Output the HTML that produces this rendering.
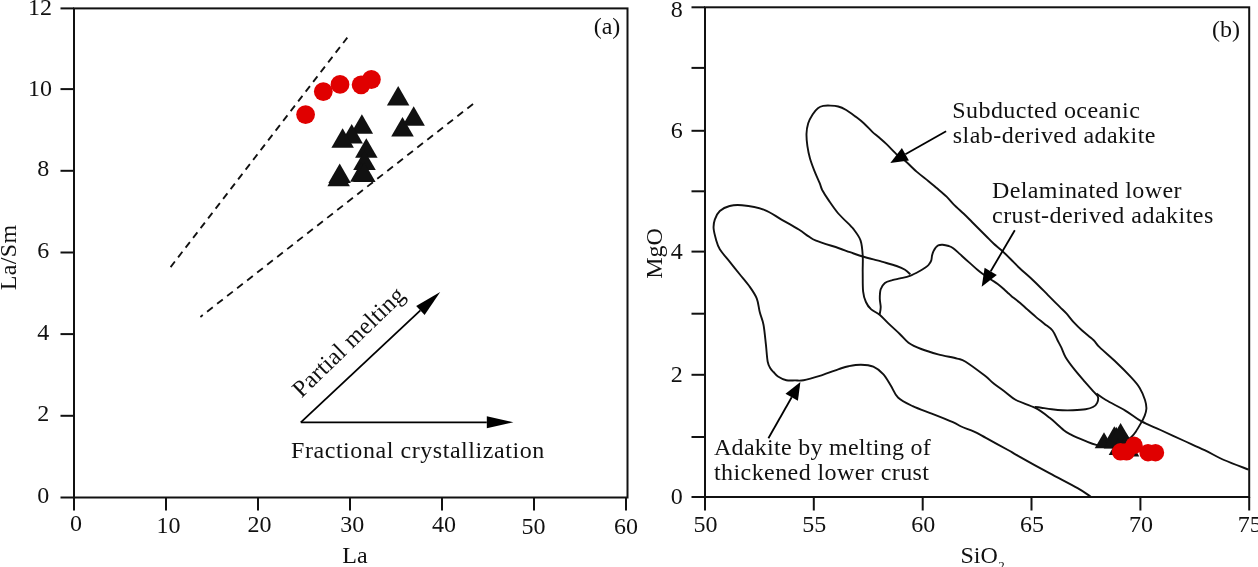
<!DOCTYPE html>
<html><head><meta charset="utf-8"><title>Adakite diagrams</title>
<style>html,body{margin:0;padding:0;background:#fff;}body{width:1258px;height:567px;overflow:hidden;}svg{display:block;} svg text{filter:grayscale(1);}</style>
</head><body>
<svg width="1258" height="567" viewBox="0 0 1258 567" font-family='"Liberation Serif", serif' fill="#111"><rect x="74.0" y="8.4" width="553.5" height="489.1" stroke="#111" stroke-width="2" fill="none"/>
<line x1="60.5" y1="497.5" x2="74.0" y2="497.5" stroke="#111" stroke-width="2" fill="none"/>
<text x="49.3" y="503.1" font-size="24" text-anchor="end" >0</text>
<line x1="60.5" y1="415.8" x2="74.0" y2="415.8" stroke="#111" stroke-width="2" fill="none"/>
<text x="49.3" y="421.4" font-size="24" text-anchor="end" >2</text>
<line x1="60.5" y1="334.1" x2="74.0" y2="334.1" stroke="#111" stroke-width="2" fill="none"/>
<text x="49.3" y="339.7" font-size="24" text-anchor="end" >4</text>
<line x1="60.5" y1="252.5" x2="74.0" y2="252.5" stroke="#111" stroke-width="2" fill="none"/>
<text x="49.3" y="258.1" font-size="24" text-anchor="end" >6</text>
<line x1="60.5" y1="170.8" x2="74.0" y2="170.8" stroke="#111" stroke-width="2" fill="none"/>
<text x="49.3" y="176.4" font-size="24" text-anchor="end" >8</text>
<line x1="60.5" y1="89.1" x2="74.0" y2="89.1" stroke="#111" stroke-width="2" fill="none"/>
<text x="52.0" y="95.7" font-size="24" text-anchor="end" >10</text>
<line x1="60.5" y1="8.4" x2="74.0" y2="8.4" stroke="#111" stroke-width="2" fill="none"/>
<text x="52.0" y="15.0" font-size="24" text-anchor="end" >12</text>
<line x1="74.0" y1="497.5" x2="74.0" y2="510.5" stroke="#111" stroke-width="2" fill="none"/>
<text x="76.0" y="531.3" font-size="24" text-anchor="middle" >0</text>
<line x1="166.0" y1="497.5" x2="166.0" y2="510.5" stroke="#111" stroke-width="2" fill="none"/>
<text x="168.5" y="533.0" font-size="24" text-anchor="middle" >10</text>
<line x1="258.0" y1="497.5" x2="258.0" y2="510.5" stroke="#111" stroke-width="2" fill="none"/>
<text x="259.5" y="531.5" font-size="24" text-anchor="middle" >20</text>
<line x1="350.0" y1="497.5" x2="350.0" y2="510.5" stroke="#111" stroke-width="2" fill="none"/>
<text x="352.3" y="532.0" font-size="24" text-anchor="middle" >30</text>
<line x1="442.0" y1="497.5" x2="442.0" y2="510.5" stroke="#111" stroke-width="2" fill="none"/>
<text x="444.0" y="531.5" font-size="24" text-anchor="middle" >40</text>
<line x1="534.0" y1="497.5" x2="534.0" y2="510.5" stroke="#111" stroke-width="2" fill="none"/>
<text x="533.6" y="534.0" font-size="24" text-anchor="middle" >50</text>
<line x1="626.0" y1="497.5" x2="626.0" y2="510.5" stroke="#111" stroke-width="2" fill="none"/>
<text x="626.0" y="534.0" font-size="24" text-anchor="middle" >60</text>
<text x="355.0" y="563.0" font-size="24" text-anchor="middle" >La</text>
<text x="0" y="0" font-size="24" text-anchor="middle" textLength="65.5" lengthAdjust="spacing" transform="translate(16,257.5) rotate(-90)">La/Sm</text>
<text x="607.0" y="34.3" font-size="24" text-anchor="middle" >(a)</text>
<line x1="170.6" y1="267.1" x2="347.3" y2="37.6" stroke-dasharray="7,5.3" stroke="#111" stroke-width="1.85" fill="none"/>
<line x1="200.4" y1="316.9" x2="475.1" y2="102.4" stroke-dasharray="7.2,5.5" stroke-dashoffset="4.2" stroke="#111" stroke-width="1.85" fill="none"/>
<line x1="300.8" y1="422.3" x2="486.8" y2="422.3" stroke="#000" stroke-width="1.8"/><polygon points="513.4,422.3 486.8,428.3 486.8,416.3" fill="#000"/>
<line x1="300.8" y1="422.3" x2="420.4" y2="310.4" stroke="#000" stroke-width="1.8"/><polygon points="440.2,291.9 424.6,314.9 416.2,305.9" fill="#000"/>
<text x="291.0" y="457.5" font-size="24" text-anchor="start" textLength="253.2" lengthAdjust="spacing">Fractional crystallization</text>
<text x="0" y="0" font-size="24" textLength="146" lengthAdjust="spacing" transform="translate(301.5,398.5) rotate(-44.2)">Partial melting</text>
<polygon points="398.2,86.1 386.9,105.6 409.4,105.6" fill="#111"/>
<polygon points="413.7,106.3 402.4,125.8 424.9,125.8" fill="#111"/>
<polygon points="402.5,116.9 391.2,136.4 413.8,136.4" fill="#111"/>
<polygon points="361.9,114.2 350.6,133.7 373.1,133.7" fill="#111"/>
<polygon points="351.7,124.1 340.4,143.6 362.9,143.6" fill="#111"/>
<polygon points="342.6,128.3 331.4,147.8 353.9,147.8" fill="#111"/>
<polygon points="366.3,138.2 355.1,157.7 377.6,157.7" fill="#111"/>
<polygon points="364.5,150.5 353.2,170.0 375.8,170.0" fill="#111"/>
<polygon points="361.3,162.3 350.1,181.8 372.6,181.8" fill="#111"/>
<polygon points="364.3,162.5 353.1,182.0 375.6,182.0" fill="#111"/>
<polygon points="339.7,163.6 328.4,183.1 350.9,183.1" fill="#111"/>
<polygon points="338.6,166.8 327.4,186.3 349.9,186.3" fill="#111"/>
<circle cx="305.6" cy="114.6" r="9.4" fill="#E00000"/>
<circle cx="323.3" cy="91.6" r="9.4" fill="#E00000"/>
<circle cx="340.0" cy="84.4" r="9.4" fill="#E00000"/>
<circle cx="361.1" cy="84.8" r="9.4" fill="#E00000"/>
<circle cx="371.4" cy="79.5" r="9.4" fill="#E00000"/>
<rect x="705.0" y="7.3" width="544.2" height="489.7" stroke="#111" stroke-width="2" fill="none"/>
<line x1="691.5" y1="497.0" x2="705.0" y2="497.0" stroke="#111" stroke-width="2" fill="none"/>
<text x="682.8" y="504.2" font-size="24" text-anchor="end" >0</text>
<line x1="691.5" y1="437.0" x2="705.0" y2="437.0" stroke="#111" stroke-width="2" fill="none"/>
<line x1="691.5" y1="374.8" x2="705.0" y2="374.8" stroke="#111" stroke-width="2" fill="none"/>
<text x="682.8" y="382.0" font-size="24" text-anchor="end" >2</text>
<line x1="691.5" y1="313.7" x2="705.0" y2="313.7" stroke="#111" stroke-width="2" fill="none"/>
<line x1="691.5" y1="251.6" x2="705.0" y2="251.6" stroke="#111" stroke-width="2" fill="none"/>
<text x="682.8" y="258.8" font-size="24" text-anchor="end" >4</text>
<line x1="691.5" y1="191.3" x2="705.0" y2="191.3" stroke="#111" stroke-width="2" fill="none"/>
<line x1="691.5" y1="130.8" x2="705.0" y2="130.8" stroke="#111" stroke-width="2" fill="none"/>
<text x="682.8" y="138.0" font-size="24" text-anchor="end" >6</text>
<line x1="691.5" y1="67.9" x2="705.0" y2="67.9" stroke="#111" stroke-width="2" fill="none"/>
<line x1="691.5" y1="7.3" x2="705.0" y2="7.3" stroke="#111" stroke-width="2" fill="none"/>
<text x="682.8" y="16.6" font-size="24" text-anchor="end" >8</text>
<line x1="705.0" y1="497.0" x2="705.0" y2="510.5" stroke="#111" stroke-width="2" fill="none"/>
<text x="705.5" y="531.5" font-size="24" text-anchor="middle" >50</text>
<line x1="813.8" y1="497.0" x2="813.8" y2="510.5" stroke="#111" stroke-width="2" fill="none"/>
<text x="814.3" y="531.5" font-size="24" text-anchor="middle" >55</text>
<line x1="922.7" y1="497.0" x2="922.7" y2="510.5" stroke="#111" stroke-width="2" fill="none"/>
<text x="923.2" y="531.5" font-size="24" text-anchor="middle" >60</text>
<line x1="1031.5" y1="497.0" x2="1031.5" y2="510.5" stroke="#111" stroke-width="2" fill="none"/>
<text x="1032.0" y="531.5" font-size="24" text-anchor="middle" >65</text>
<line x1="1140.4" y1="497.0" x2="1140.4" y2="510.5" stroke="#111" stroke-width="2" fill="none"/>
<text x="1140.9" y="531.5" font-size="24" text-anchor="middle" >70</text>
<line x1="1249.2" y1="497.0" x2="1249.2" y2="510.5" stroke="#111" stroke-width="2" fill="none"/>
<text x="1249.7" y="531.5" font-size="24" text-anchor="middle" >75</text>
<text x="960.5" y="563" font-size="24">SiO<tspan font-size="13" dx="0.5" dy="7">2</tspan></text>
<text x="0" y="0" font-size="24" text-anchor="middle" transform="translate(661.5,253.5) rotate(-90)">MgO</text>
<text x="1226.0" y="37.0" font-size="24" text-anchor="middle" >(b)</text>
<path d="M806.5,133.8 C806.6,130.0 807.2,126.4 808.2,123.2 C809.2,120.0 811.0,116.9 812.6,114.4 C814.2,111.9 816.1,109.6 817.9,108.2 C819.7,106.8 821.1,106.3 823.2,105.9 C825.3,105.5 827.8,105.5 830.3,105.6 C832.8,105.7 835.6,105.8 838.2,106.5 C840.9,107.2 843.4,108.4 846.2,110.0 C849.0,111.6 852.1,114.0 855.0,116.2 C857.9,118.4 860.9,120.6 863.8,123.2 C866.7,125.8 870.2,129.9 872.6,132.1 C875.0,134.3 875.5,134.4 877.9,136.5 C880.3,138.6 883.5,141.3 886.8,144.4 C890.0,147.5 894.3,152.2 897.4,155.0 C900.5,157.8 902.4,158.5 905.6,161.3 C908.9,164.1 913.1,168.6 916.9,171.9 C920.7,175.2 924.9,178.3 928.2,181.0 C931.5,183.7 933.6,185.5 936.7,188.1 C939.8,190.7 943.8,193.9 946.6,196.6 C949.4,199.3 950.8,201.5 953.6,204.3 C956.4,207.1 960.4,210.6 963.5,213.5 C966.6,216.4 969.3,219.3 972.0,222.0 C974.7,224.7 977.1,227.1 979.5,229.5 C981.9,231.9 984.1,234.1 986.5,236.5 C988.9,238.9 991.3,241.6 993.8,243.8 C996.2,246.1 998.3,247.4 1001.2,250.0 C1004.1,252.6 1007.9,256.4 1011.0,259.5 C1014.1,262.6 1016.1,264.9 1020.0,268.5 C1023.9,272.1 1029.4,276.7 1034.1,281.2 C1038.8,285.7 1044.0,291.1 1048.2,295.3 C1052.4,299.5 1056.4,303.6 1059.5,306.6 C1062.6,309.7 1064.2,311.0 1066.6,313.6 C1068.9,316.2 1071.0,319.3 1073.6,322.1 C1076.2,324.9 1078.8,327.5 1082.1,330.5 C1085.4,333.5 1090.5,337.2 1093.4,340.0 C1096.3,342.8 1095.7,343.4 1099.5,347.2 C1103.3,350.9 1111.1,357.5 1116.4,362.5 C1121.7,367.5 1127.3,373.2 1131.2,377.4 C1135.1,381.6 1137.4,384.1 1139.7,387.9 C1142.0,391.7 1143.9,396.5 1145.0,400.0 C1146.1,403.5 1146.5,406.2 1146.4,408.8 C1146.3,411.4 1145.5,413.5 1144.6,415.9 C1143.7,418.2 1142.6,420.3 1141.1,422.9 C1139.6,425.5 1137.4,429.3 1135.8,431.7 C1134.2,434.1 1133.7,435.0 1131.4,437.0 C1129.1,439.0 1125.6,441.9 1122.0,443.5 C1118.4,445.1 1114.3,446.3 1110.0,446.5 C1105.7,446.7 1100.4,445.8 1096.2,444.8 C1092.0,443.8 1088.9,442.3 1084.6,440.6 C1080.3,438.9 1074.0,436.2 1070.5,434.4 C1067.0,432.6 1067.0,432.8 1063.5,430.0 C1060.0,427.2 1054.1,421.3 1049.4,417.6 C1044.7,413.9 1040.9,410.8 1035.3,407.9 C1029.7,405.0 1020.8,402.6 1015.9,400.0 C1011.0,397.4 1009.6,395.2 1005.8,392.4 C1002.0,389.5 996.6,385.7 993.1,382.9 C989.6,380.1 989.3,379.0 984.7,375.5 C980.1,372.0 970.2,364.5 965.6,361.7 C961.0,358.9 961.7,359.8 957.1,358.6 C952.5,357.4 944.1,355.9 938.1,354.3 C932.1,352.7 926.1,350.9 921.2,349.0 C916.3,347.1 912.0,345.2 908.5,342.7 C905.0,340.2 903.4,337.5 900.0,334.2 C896.6,330.9 891.5,326.4 888.1,323.1 C884.7,319.9 882.4,317.0 879.6,314.7 C876.8,312.4 873.5,311.5 871.2,309.4 C868.9,307.3 867.2,305.0 865.9,302.0 C864.5,299.0 863.6,296.3 863.1,291.4 C862.6,286.4 862.8,278.3 862.7,272.3 C862.6,266.3 863.1,260.7 862.7,255.4 C862.4,250.1 862.0,244.8 860.6,240.6 C859.2,236.4 855.9,232.5 854.2,230.0 C852.5,227.5 853.2,228.6 850.6,225.8 C848.0,223.1 842.0,217.8 838.3,213.5 C834.6,209.2 831.1,203.8 828.4,199.9 C825.7,196.0 823.7,192.8 822.2,190.0 C820.8,187.2 821.0,186.4 819.7,183.2 C818.4,180.0 816.0,175.0 814.4,170.9 C812.8,166.8 811.2,162.6 810.0,158.5 C808.8,154.4 808.0,150.3 807.4,146.2 C806.8,142.1 806.4,137.6 806.5,133.8 Z" stroke="#111" stroke-width="1.9" fill="none" stroke-linejoin="round"/>
<path d="M879.6,314.7 C879.8,313.5 880.7,310.0 880.7,307.3 C880.7,304.6 879.8,301.6 879.8,298.6 C879.8,295.6 879.9,291.9 880.7,289.3 C881.6,286.7 883.0,284.4 884.9,282.9 C886.8,281.4 889.8,280.9 892.3,280.2 C894.8,279.4 897.1,279.1 900.0,278.4 C902.9,277.7 906.6,277.1 909.9,275.9 C913.2,274.7 917.3,272.4 919.8,271.0 C922.3,269.6 923.5,268.8 925.0,267.8 C926.5,266.8 927.5,266.2 928.5,265.0 C929.5,263.8 930.6,262.2 931.2,260.6 C931.8,259.0 931.7,256.9 932.1,255.3 C932.5,253.8 932.8,252.6 933.4,251.3 C934.0,250.1 934.7,248.8 935.5,247.8 C936.3,246.8 937.0,245.8 938.2,245.3 C939.4,244.8 940.8,244.6 942.6,244.7 C944.4,244.8 947.0,245.4 948.8,246.0 C950.6,246.6 951.3,246.8 953.2,248.2 C955.1,249.6 957.6,252.0 960.3,254.4 C962.9,256.8 966.1,259.8 969.1,262.4 C972.1,265.0 975.6,268.3 978.0,270.3 C980.4,272.3 981.0,272.7 983.2,274.3 C985.4,275.9 988.9,278.2 991.3,279.8 C993.7,281.4 995.6,282.4 997.7,284.0 C999.8,285.6 1002.1,287.6 1004.0,289.3 C1005.9,291.0 1008.0,293.0 1009.3,294.1 C1010.5,295.2 1009.9,294.9 1011.5,296.2 C1013.1,297.5 1016.3,299.8 1018.9,302.0 C1021.5,304.2 1024.5,306.9 1027.3,309.4 C1030.1,311.9 1033.0,314.5 1035.8,316.9 C1038.6,319.3 1041.5,321.4 1044.3,323.7 C1047.1,326.0 1050.3,327.8 1052.5,330.5 C1054.7,333.2 1055.9,337.1 1057.4,340.0 C1058.9,342.9 1060.0,344.8 1061.4,347.7 C1062.8,350.6 1063.5,353.7 1065.6,357.2 C1067.7,360.7 1070.8,364.8 1074.0,368.9 C1077.2,373.0 1081.5,377.9 1084.7,381.6 C1087.9,385.3 1090.9,388.7 1093.1,391.2 C1095.3,393.7 1097.1,394.6 1097.8,396.5 C1098.5,398.4 1098.0,401.1 1097.2,402.8 C1096.4,404.6 1094.9,405.9 1093.0,407.0 C1091.1,408.1 1088.9,408.7 1085.6,409.2 C1082.2,409.7 1076.8,410.0 1072.9,410.2 C1069.0,410.4 1065.8,410.4 1062.3,410.2 C1058.8,410.0 1055.2,409.6 1051.7,409.2 C1048.2,408.8 1044.0,408.1 1041.2,407.7 C1038.4,407.3 1035.9,407.1 1034.8,407.0" stroke="#111" stroke-width="1.9" fill="none" stroke-linejoin="round"/>
<path d="M910.3,274.4 C909.4,273.6 907.3,271.2 905.0,269.8 C902.7,268.4 900.5,267.4 896.6,266.0 C892.7,264.6 887.4,263.3 881.7,261.7 C876.1,260.1 868.0,258.1 862.7,256.5 C857.4,254.9 854.1,253.6 850.0,252.2 C845.9,250.8 844.0,249.9 838.3,248.0 C832.6,246.1 821.0,242.5 816.0,240.6 C811.0,238.7 811.5,238.2 808.6,236.4 C805.7,234.6 803.3,232.3 798.8,229.5 C794.3,226.7 787.3,222.9 781.5,219.6 C775.7,216.3 770.8,212.2 764.2,209.8 C757.6,207.4 747.8,205.9 742.0,205.3 C736.2,204.7 733.3,205.1 729.6,206.0 C725.9,206.9 722.3,208.7 719.8,211.0 C717.3,213.3 715.8,216.7 714.8,219.6 C713.8,222.5 713.4,225.0 713.6,228.3 C713.8,231.6 715.0,235.9 716.0,239.4 C717.0,242.9 717.5,245.6 719.8,249.3 C722.1,253.0 726.3,257.5 729.6,261.6 C732.9,265.7 736.2,269.9 739.5,274.0 C742.8,278.1 746.5,282.2 749.4,286.3 C752.3,290.4 755.1,294.3 756.8,298.6 C758.5,302.9 758.7,308.0 759.8,312.3 C760.9,316.6 762.5,319.4 763.5,324.7 C764.5,330.0 765.2,338.2 765.9,344.4 C766.6,350.6 766.9,357.7 767.7,361.7 C768.5,365.7 769.5,366.8 770.5,368.5 C771.5,370.2 772.2,370.7 773.5,372.0 C774.8,373.3 775.9,375.1 778.0,376.5 C780.1,377.9 783.6,379.6 786.4,380.2 C789.2,380.8 792.1,380.4 795.0,380.4 C797.9,380.4 799.2,381.0 803.6,380.2 C808.0,379.4 815.6,377.1 821.5,375.3 C827.4,373.5 834.3,370.6 838.8,369.1 C843.3,367.6 844.9,366.9 848.6,366.2 C852.3,365.5 856.9,364.6 861.0,364.7 C865.1,364.8 869.6,365.1 873.3,366.7 C877.0,368.3 880.3,371.0 883.2,374.1 C886.1,377.2 888.1,381.3 890.6,385.2 C893.1,389.1 894.3,394.0 898.0,397.5 C901.7,401.0 907.1,403.5 912.7,406.2 C918.3,408.9 925.0,411.0 931.7,413.6 C938.4,416.2 948.0,420.0 952.9,422.1 C957.8,424.2 957.7,424.9 961.2,426.5 C964.7,428.1 970.0,429.7 974.1,431.6 C978.2,433.5 980.2,434.8 985.9,437.9 C991.5,441.0 1002.7,447.1 1008.0,450.0 C1013.3,452.9 1010.7,451.7 1017.6,455.6 C1024.5,459.5 1039.4,467.8 1049.4,473.2 C1059.4,478.6 1070.7,484.3 1077.6,488.2 C1084.5,492.1 1088.6,495.3 1090.8,496.7" stroke="#111" stroke-width="1.9" fill="none" stroke-linejoin="round"/>
<path d="M1096.5,393.5 C1098.1,394.6 1101.1,397.1 1105.9,400.0 C1110.7,402.9 1119.4,407.1 1125.3,410.6 C1131.2,414.1 1135.2,418.0 1141.1,421.2 C1147.0,424.4 1153.5,426.8 1160.5,430.0 C1167.5,433.2 1176.1,437.1 1183.4,440.5 C1190.8,443.9 1197.8,446.9 1204.6,450.2 C1211.4,453.4 1216.7,456.8 1224.0,460.0 C1231.3,463.2 1244.5,468.0 1248.6,469.6" stroke="#111" stroke-width="1.9" fill="none" stroke-linejoin="round"/>
<line x1="946.1" y1="131.2" x2="905.4" y2="154.3" stroke="#000" stroke-width="1.8"/><polygon points="890.3,162.9 901.9,148.1 908.9,160.5" fill="#000"/>
<line x1="1014.8" y1="230.2" x2="990.7" y2="271.3" stroke="#000" stroke-width="1.8"/><polygon points="981.7,286.7 984.6,267.8 996.8,274.9" fill="#000"/>
<line x1="768.4" y1="438.3" x2="791.7" y2="397.3" stroke="#000" stroke-width="1.8"/><polygon points="800.4,382.0 797.9,400.8 785.5,393.8" fill="#000"/>
<text x="952.3" y="117.5" font-size="24" text-anchor="start" textLength="187.5" lengthAdjust="spacing">Subducted oceanic</text>
<text x="952.7" y="142.5" font-size="24" text-anchor="start" textLength="202.8" lengthAdjust="spacing">slab-derived adakite</text>
<text x="992.0" y="198.0" font-size="24" text-anchor="start" textLength="189.5" lengthAdjust="spacing">Delaminated lower</text>
<text x="992.0" y="223.0" font-size="24" text-anchor="start" textLength="221.3" lengthAdjust="spacing">crust-derived adakites</text>
<text x="714.0" y="455.0" font-size="24" text-anchor="start" textLength="216.7" lengthAdjust="spacing">Adakite by melting of</text>
<text x="714.0" y="479.5" font-size="24" text-anchor="start" textLength="215.0" lengthAdjust="spacing">thickened lower crust</text>
<polygon points="1104.0,432.2 1094.7,448.3 1113.3,448.3" fill="#111"/>
<polygon points="1113.0,432.5 1103.7,448.6 1122.3,448.6" fill="#111"/>
<polygon points="1122.0,433.5 1112.7,449.6 1131.3,449.6" fill="#111"/>
<polygon points="1114.3,426.3 1105.0,442.4 1123.6,442.4" fill="#111"/>
<polygon points="1116.2,426.8 1106.9,442.9 1125.5,442.9" fill="#111"/>
<polygon points="1120.6,422.9 1111.3,439.0 1129.9,439.0" fill="#111"/>
<polygon points="1118.0,438.8 1108.7,454.9 1127.3,454.9" fill="#111"/>
<polygon points="1126.5,433.5 1117.2,449.6 1135.8,449.6" fill="#111"/>
<polygon points="1130.0,440.5 1120.7,456.6 1139.3,456.6" fill="#111"/>
<circle cx="1120.5" cy="451.8" r="8.7" fill="#E00000"/>
<circle cx="1126.5" cy="451.8" r="8.7" fill="#E00000"/>
<circle cx="1134.0" cy="445.3" r="8.7" fill="#E00000"/>
<circle cx="1148.0" cy="452.7" r="8.7" fill="#E00000"/>
<circle cx="1155.5" cy="452.7" r="8.7" fill="#E00000"/></svg>
</body></html>
